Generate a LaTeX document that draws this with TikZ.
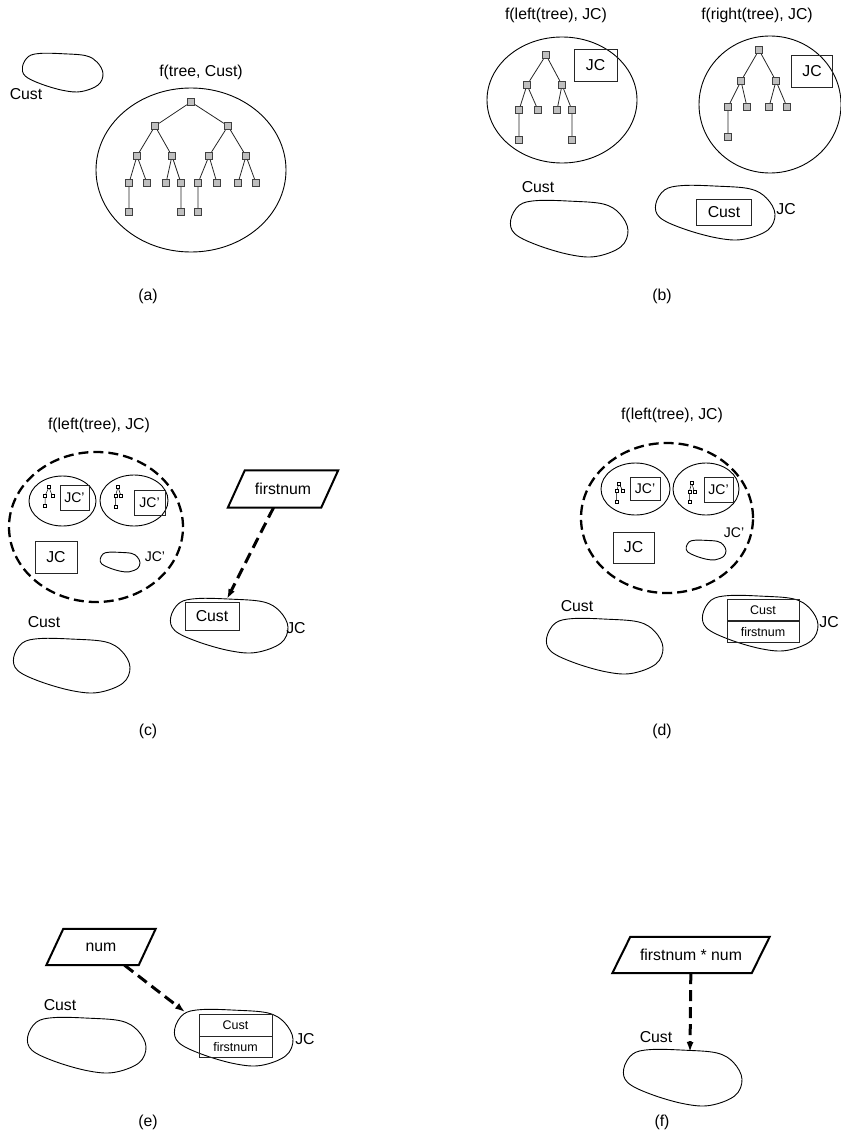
\documentclass[tikz,border=0pt]{standalone}
\usepackage{fontspec}
\setmainfont{Liberation Sans}
\usetikzlibrary{shapes.geometric,arrows.meta}
\newcommand\myblob[4]{\begin{scope}[shift={(#1,#2)},xscale=#3,yscale=#4]
\draw[outline] plot[smooth cycle,tension=0.6] coordinates {(0.006,0.35) (0.08,0.09) (0.23,0.01) (0.51,0.02) (0.79,0.07) (0.93,0.24) (1.0,0.53) (0.94,0.82) (0.73,0.99) (0.51,0.96) (0.23,0.79) (0.04,0.59)};
\end{scope}}
\newcommand\parabox[2]{\draw[paraline] ([xshift=-#2]#1.south west) -- ([xshift=-#2]#1.south east) -- ([xshift=#2]#1.north east) -- ([xshift=#2]#1.north west) -- cycle;}
\begin{document}
\begin{tikzpicture}[x=1pt,y=-1pt,font=\fontsize{15.8}{19}\selectfont,
  outline/.style={line width=0.9pt,draw=black},
  ell/.style={draw,ellipse,line width=0.9pt,inner sep=0},
  dashell/.style={draw,ellipse,line width=2.3pt,dash pattern=on 10pt off 5pt,inner sep=0},
  box/.style={draw=black!85,line width=0.9pt,rectangle,inner sep=0},
  tn/.style={draw=black!75,fill=gray!50,minimum size=7.5pt,inner sep=0,line width=0.7pt},
  mn/.style={draw,fill=white,minimum size=3pt,inner sep=0,line width=0.5pt},
  tedge/.style={line width=0.8pt,draw=black!85},
  medge/.style={line width=0.5pt},
  para/.style={rectangle,inner sep=0},
  paraline/.style={line width=2pt,line join=miter},
  flow/.style={line width=3pt,dash pattern=on 11pt off 6pt,-{Latex[length=10pt,width=7pt]}},
  lbl/.style={inner sep=0},
  jcp/.style={inner sep=0,font=\fontsize{14}{16}\selectfont},
  small/.style={font=\fontsize{12.5}{15}\selectfont}]
\useasboundingbox (0,0) rectangle (840,1134);

% ---------- (a)
\node[lbl] (custa) at (26,94) {Cust};
\myblob{22}{53}{81}{39}
\node[lbl] (ta) at (201,72) {f(tree, Cust)};
\node[ell,minimum width=190pt,minimum height=164pt] (ea) at (191,170) {};
\node[tn] (a) at (191,102) {};
\node[tn] (aL) at (155,126) {};
\node[tn] (aR) at (228,126) {};
\node[tn] (aLL) at (137,156) {};
\node[tn] (aLR) at (172,156) {};
\node[tn] (aRL) at (209,156) {};
\node[tn] (aRR) at (246,156) {};
\node[tn] (aLLL) at (129,183) {};
\node[tn] (aLLR) at (147,183) {};
\node[tn] (aLRL) at (166,183) {};
\node[tn] (aLRR) at (181,183) {};
\node[tn] (aRLL) at (198,183) {};
\node[tn] (aRLR) at (217,183) {};
\node[tn] (aRRL) at (238,183) {};
\node[tn] (aRRR) at (256,183) {};
\node[tn] (aLLLL) at (129,212) {};
\node[tn] (aLRRL) at (181,212) {};
\node[tn] (aRLLL) at (198,212) {};
\draw[tedge] (a)--(aL) (a)--(aR) (aL)--(aLL) (aL)--(aLR) (aR)--(aRL) (aR)--(aRR)
  (aLL)--(aLLL) (aLL)--(aLLR) (aLR)--(aLRL) (aLR)--(aLRR) (aRL)--(aRLL) (aRL)--(aRLR)
  (aRR)--(aRRL) (aRR)--(aRRR) (aLLL)--(aLLLL) (aLRR)--(aLRRL) (aRLL)--(aRLLL);
\node[lbl] (capa) at (148,296) {(a)};

% ---------- (b)
\node[lbl] (tbl) at (556,15) {f(left(tree), JC)};
\node[lbl] (tbr) at (757,15) {f(right(tree), JC)};
\node[ell,minimum width=150pt,minimum height=126pt] (ebl) at (562,100) {};
\node[box,minimum width=43pt,minimum height=32pt] (jcbl) at (595.5,65) {JC};
\node[ell,minimum width=142pt,minimum height=137pt] (ebr) at (770,104.5) {};
\node[box,minimum width=41pt,minimum height=32pt] (jcbr) at (812,71) {JC};
\node[tn] (b) at (546,55) {};
\node[tn] (bL) at (527,85) {};
\node[tn] (bR) at (562,85) {};
\node[tn] (bLL) at (519,110) {};
\node[tn] (bLR) at (538,110) {};
\node[tn] (bRL) at (557,110) {};
\node[tn] (bRR) at (572,110) {};
\node[tn] (bLLL) at (519,140) {};
\node[tn] (bRRL) at (572,140) {};
\draw[tedge] (b)--(bL) (b)--(bR) (bL)--(bLL) (bL)--(bLR) (bR)--(bRL) (bR)--(bRR)
  (bLL)--(bLLL) (bRR)--(bRRL);
\node[tn] (r) at (759,50) {};
\node[tn] (rL) at (741,81) {};
\node[tn] (rR) at (776,81) {};
\node[tn] (rLL) at (728,107) {};
\node[tn] (rLR) at (747,107) {};
\node[tn] (rRL) at (769,107) {};
\node[tn] (rRR) at (787,107) {};
\node[tn] (rLLL) at (728,137) {};
\draw[tedge] (r)--(rL) (r)--(rR) (rL)--(rLL) (rL)--(rLR) (rR)--(rRL) (rR)--(rRR) (rLL)--(rLLL);
\node[lbl] (custb) at (538,187) {Cust};
\myblob{510}{200}{118}{57}
\myblob{655}{185}{120}{55}
\node[box,minimum width=55pt,minimum height=26pt] (custboxb) at (724,212) {Cust};
\node[lbl] (jcb) at (786,209) {JC};
\node[lbl] (capb) at (662,296) {(b)};

% ---------- (c)
\node[lbl] (tc) at (99,425) {f(left(tree), JC)};
\node[dashell,minimum width=174pt,minimum height=150pt] (dc) at (96,527) {};
\node[ell,minimum width=67pt,minimum height=50pt] (c1) at (62.5,501) {};
\node[box,jcp,minimum width=29pt,minimum height=25pt] (c1jc) at (74.5,497.5) {JC'};
\node[ell,minimum width=68pt,minimum height=51pt] (c2) at (134,500.5) {};
\node[box,jcp,minimum width=31pt,minimum height=25pt] (c2jc) at (149.5,502.5) {JC'};
\node[mn] (c1r) at (49,487) {};
\node[mn] (c1a) at (45,496) {};
\node[mn] (c1b) at (52.3,496) {};
\node[mn] (c1c) at (45,506) {};
\draw[medge] (c1r)--(c1a) (c1r)--(c1b) (c1a)--(c1c);
\node[mn] (c2r) at (118,487) {};
\node[mn] (c2a) at (115.5,496) {};
\node[mn] (c2b) at (121,496) {};
\node[mn] (c2c) at (115.5,507) {};
\draw[medge] (c2r)--(c2a) (c2r)--(c2b) (c2a)--(c2c);
\node[box,minimum width=42pt,minimum height=32pt] (jcc) at (56,557) {JC};
\myblob{100}{552}{40}{20}
\node[jcp] (jcpc) at (155,557) {JC'};
\node[lbl] (custc) at (44,622) {Cust};
\myblob{13}{638}{117}{55}
\node[para,minimum width=93pt,minimum height=37pt] (pc) at (283,489) {firstnum};
\parabox{pc}{8.5pt}
\myblob{170}{598}{118}{55}
\node[box,minimum width=54pt,minimum height=28pt] (custboxc) at (212,616) {Cust};
\node[lbl] (jclc) at (296,628) {JC};
\coordinate (tipc) at (227,599);
\draw[flow] (pc) -- (tipc);
\node[lbl] (capc) at (148,731) {(c)};

% ---------- (d)
\node[lbl] (td) at (672,415) {f(left(tree), JC)};
\node[dashell,minimum width=172pt,minimum height=150pt] (dd) at (667,518) {};
\node[ell,minimum width=69pt,minimum height=52pt] (d1) at (635.5,489) {};
\node[box,jcp,minimum width=30pt,minimum height=23pt] (d1jc) at (645,488.5) {JC'};
\node[ell,minimum width=66pt,minimum height=52pt] (d2) at (706,489) {};
\node[box,jcp,minimum width=29pt,minimum height=25pt] (d2jc) at (718.5,489.5) {JC'};
\node[mn] (d1r) at (619,483.3) {};
\node[mn] (d1a) at (616.7,490.7) {};
\node[mn] (d1b) at (622.7,490.7) {};
\node[mn] (d1c) at (616.5,501.7) {};
\draw[medge] (d1r)--(d1a) (d1r)--(d1b) (d1a)--(d1c);
\node[mn] (d2r) at (691.7,482.7) {};
\node[mn] (d2a) at (689.3,491.7) {};
\node[mn] (d2b) at (694.3,491.7) {};
\node[mn] (d2c) at (689.3,501.7) {};
\draw[medge] (d2r)--(d2a) (d2r)--(d2b) (d2a)--(d2c);
\node[box,minimum width=41pt,minimum height=31pt] (jcd) at (633.5,547.5) {JC};
\myblob{686}{540}{40}{20}
\node[jcp] (jcpd) at (734,533) {JC'};
\node[lbl] (custd) at (577,606) {Cust};
\myblob{546}{618}{117}{56}
\myblob{702}{595}{116}{56}
\node[box,small,minimum width=72pt,minimum height=21.5pt] (recd1) at (763,609.75) {Cust};
\node[box,small,minimum width=72pt,minimum height=21.5pt,anchor=north] (recd2) at (recd1.south) {firstnum};
\node[lbl] (jcld) at (829,622) {JC};
\node[lbl] (capd) at (662,731) {(d)};

% ---------- (e)
\node[para,minimum width=92pt,minimum height=36pt] (pe) at (101,947) {num};
\parabox{pe}{8.5pt}
\coordinate (tipe) at (185,1012);
\node[lbl] (custe) at (60,1005) {Cust};
\myblob{27}{1017}{119}{56}
\myblob{174}{1009}{119}{57}
\node[box,small,minimum width=73pt,minimum height=22pt] (rece1) at (235.5,1025) {Cust};
\node[box,small,minimum width=73pt,minimum height=21pt,anchor=north] (rece2) at (rece1.south) {firstnum};
\node[lbl] (jcle) at (305,1039) {JC};
\draw[flow] (pe) -- (tipe);
\node[lbl] (cape) at (148,1122) {(e)};

% ---------- (f)
\node[para,minimum width=139pt,minimum height=36pt] (pf) at (691,955) {firstnum * num};
\parabox{pf}{9pt}
\coordinate (tipf) at (690,1052);
\node[lbl] (custf) at (656,1037) {Cust};
\myblob{623}{1049}{119}{57}
\draw[flow] (pf) -- (tipf);
\node[lbl] (capf) at (662,1122) {(f)};
\end{tikzpicture}
\end{document}
